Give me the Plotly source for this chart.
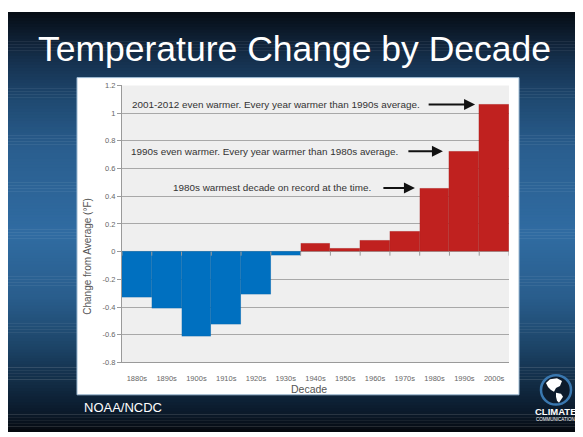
import plotly.graph_objects as go

# ---- data ----
decades = ["1880s", "1890s", "1900s", "1910s", "1920s", "1930s", "1940s",
           "1950s", "1960s", "1970s", "1980s", "1990s", "2000s"]
change_f = [-0.33, -0.41, -0.615, -0.525, -0.31, -0.03, 0.06,
            0.02, 0.078, 0.144, 0.46, 0.725, 1.063]
y_tickvals = [1.2, 1.0, 0.8, 0.6, 0.4, 0.2, 0.0, -0.2, -0.4, -0.6, -0.8]
y_ticktext = ["1.2", "1", "0.8", "0.6", "0.4", "0.2", "0", "-0.2", "-0.4", "-0.6", "-0.8"]
notes = ["2001-2012 even warmer. Every year warmer than 1990s average.",
         "1990s even warmer. Every year warmer than 1980s average.",
         "1980s warmest decade on record at the time."]

# page body has an 8px margin: figure is placed at (8, 8)
OX, OY = 8, 8
W, H = 583 - OX, 437 - OY
def px(x): return (x - OX) / W
def py(y): return 1 - (y - OY) / H

BLUE = "#0070c0"
RED = "#c0211f"
colors = [BLUE if v < 0 else RED for v in change_f]

fig = go.Figure()
fig.add_trace(go.Bar(x=decades, y=change_f,
                     marker=dict(color=colors, line=dict(width=0.4, color="rgba(0,0,0,0.15)")),
                     width=1.0, showlegend=False, hoverinfo="x+y"))

# ---- background gradient (decorative) ----
stops = [(0, (3, 6, 10)), (20, (10, 21, 34)), (60, (22, 50, 80)), (100, (31, 74, 114)),
         (150, (42, 94, 143)), (235, (48, 108, 162)), (300, (41, 93, 140)),
         (350, (28, 68, 103)), (390, (17, 42, 66)), (420, (10, 24, 40)), (437, (4, 8, 13))]
def grad(y):
    for (y0, c0), (y1, c1) in zip(stops[:-1], stops[1:]):
        if y0 <= y <= y1:
            t = (y - y0) / (y1 - y0)
            return "rgb(%d,%d,%d)" % tuple(round(a + (b - a) * t) for a, b in zip(c0, c1))
    return "rgb(4,8,13)"

shapes = []
step = 3
y = OY
while y < OY + H:
    y2 = min(y + step, OY + H)
    shapes.append(dict(type="rect", xref="paper", yref="paper", x0=0, x1=1,
                       y0=max(py(y2 + 0.5), 0), y1=py(y),
                       fillcolor=grad((y + y2) / 2), line=dict(width=0), layer="below"))
    y = y2

# white chart panel
shapes.append(dict(type="rect", xref="paper", yref="paper", x0=px(77), x1=px(519), y0=py(399), y1=py(75),
                   fillcolor="white", line=dict(width=1, color="#9dbad3"), layer="below"))
# gray plot area
shapes.append(dict(type="rect", xref="x domain", yref="y domain", x0=0, x1=1, y0=0, y1=1,
                   fillcolor="#efefef", line=dict(width=0), layer="below"))

# small tick marks along the zero line at category boundaries
for i in range(len(decades) + 1):
    shapes.append(dict(type="line", xref="x", yref="y", x0=i - 0.5, x1=i - 0.5,
                       ysizemode="pixel", yanchor=0, y0=0, y1=-4,
                       line=dict(color="#9a9a9a", width=1), layer="above"))

# logo ring
shapes.append(dict(type="circle", xref="paper", yref="paper", x0=px(541), x1=px(571), y0=py(409), y1=py(379),
                   fillcolor="#0d1b2c", line=dict(color="#3a78b0", width=2.5)))
def pathp(pts):
    return "M " + " L ".join("%f,%f" % (px(a), py(b)) for a, b in pts) + " Z"
na = [(546, 387), (550, 383), (557, 382), (562, 385), (560, 390), (556, 392), (554, 396), (551, 394), (548, 391)]
sa = [(556, 397), (561, 398), (563, 401), (559, 407), (557, 405), (556, 401)]
for pts in (na, sa):
    shapes.append(dict(type="path", xref="paper", yref="paper", path=pathp(pts),
                       fillcolor="white", line=dict(width=0)))

# ---- annotations ----
font = "Liberation Sans, Arial, sans-serif"
ann = []
ann.append(dict(text="Temperature Change by Decade", xref="paper", yref="paper", x=px(294), y=py(46),
                xanchor="center", yanchor="middle", showarrow=False,
                font=dict(family=font, size=35.5, color="white")))
ann.append(dict(text="NOAA/NCDC", xref="paper", yref="paper", x=px(82), y=py(412),
                xanchor="left", yanchor="middle", showarrow=False,
                font=dict(family=font, size=13, color="white")))
ann.append(dict(text="<b>CLIMATE</b>", xref="paper", yref="paper", x=px(555.5), y=py(416.5),
                xanchor="center", yanchor="middle", showarrow=False,
                font=dict(family=font, size=9.5, color="white")))
ann.append(dict(text="COMMUNICATION", xref="paper", yref="paper", x=px(555.5), y=py(424),
                xanchor="center", yanchor="middle", showarrow=False,
                font=dict(family=font, size=4.5, color="white")))
ann.append(dict(text="Change from Average (°F)", xref="paper", yref="paper", x=px(88), y=py(258),
                textangle=-90, xanchor="center", yanchor="middle", showarrow=False,
                font=dict(family=font, size=10, color="#555555")))
ann.append(dict(text="Decade", xref="paper", yref="paper", x=px(309), y=py(393),
                xanchor="center", yanchor="middle", showarrow=False,
                font=dict(family=font, size=10.5, color="#555555")))

text_right = [9.58, 8.84, 7.93]
arrow_tail = [9.75, 9.07, 8.23]
arrow_head = [11.36, 10.28, 9.34]
for k, note in enumerate(notes):
    yv = change_f[-1 - k]
    ann.append(dict(text=note, xref="x", yref="y", x=text_right[k], y=yv, xanchor="right", yanchor="middle",
                    showarrow=False, font=dict(family=font, size=9.9, color="#333333")))
    ann.append(dict(text="", xref="x", yref="y", x=arrow_head[k], y=yv, axref="x", ayref="y",
                    ax=arrow_tail[k], ay=yv, showarrow=True, arrowhead=2, arrowsize=1.1,
                    arrowwidth=2, arrowcolor="#111111"))

fig.update_layout(
    width=W, height=H, margin=dict(l=0, r=0, t=0, b=0),
    paper_bgcolor="white", plot_bgcolor="rgba(0,0,0,0)",
    bargap=0, shapes=shapes, annotations=ann,
    font=dict(family=font),
    xaxis=dict(domain=[px(122), px(509)], range=[-0.5, len(decades) - 0.5], type="category",
               showgrid=False, showline=True, linecolor="#9a9a9a", linewidth=1,
               ticks="", ticklabelstandoff=9, tickfont=dict(size=7.5, color="#666666"),
               fixedrange=True),
    yaxis=dict(domain=[py(366), py(83)], range=[-0.8, 1.2], tickvals=y_tickvals, ticktext=y_ticktext,
               showgrid=True, gridcolor="#a8a8a8", gridwidth=1, zeroline=False,
               showline=True, linecolor="#9a9a9a", linewidth=1,
               ticks="outside", ticklen=4, tickcolor="#9a9a9a",
               tickfont=dict(size=7.5, color="#666666"), fixedrange=True),
)

fig.write_html("out.html")
